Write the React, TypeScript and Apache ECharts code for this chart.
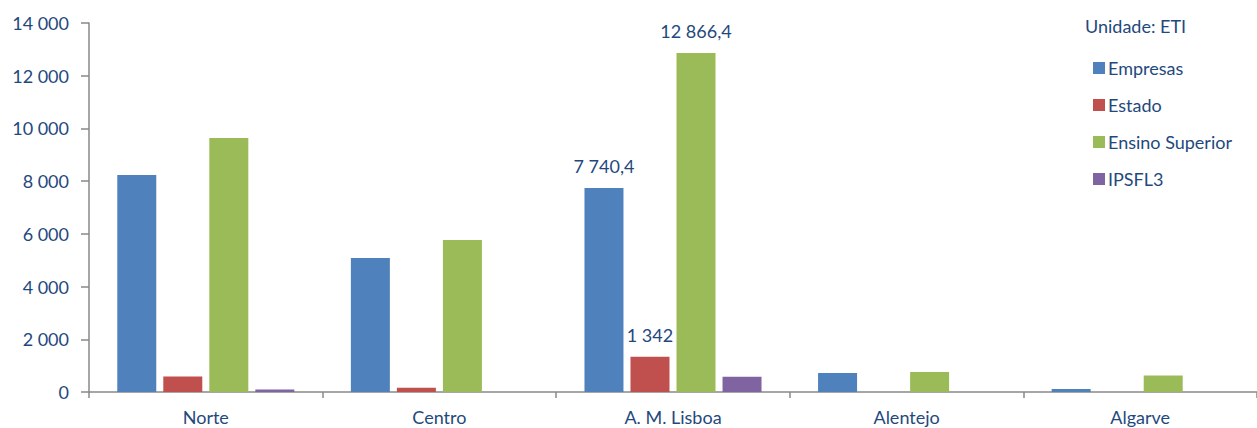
import React, { useEffect, useRef } from "react";
import * as echarts from "echarts";

const categories = ["Norte", "Centro", "A. M. Lisboa", "Alentejo", "Algarve"];
const empresas = [8230, 5085, 7740.4, 720, 110];
const estado = [590, 160, 1342, 0, 0];
const ensinoSuperior = [9640, 5770, 12866.4, 760, 625];
const ipsfl3 = [95, 0, 580, 0, 0];
const yTicks = { min: 0, max: 14000, interval: 2000 };
// which values carry a data label: [seriesIndex, categoryIndex]
const labelled = [
  [0, 2],
  [1, 2],
  [2, 2],
];

const TEXT = "#1F497D";
const FONT = "Lato";
const FS = 18;

function fmt(v: number): string {
  const neg = v < 0;
  const abs = Math.abs(v);
  const isInt = Math.abs(abs - Math.round(abs)) < 1e-9;
  const s = isInt ? String(Math.round(abs)) : abs.toFixed(1);
  const [ip, dp] = s.split(".");
  const withSep = ip.replace(/\B(?=(\d{3})+(?!\d))/g, " ");
  return (neg ? "-" : "") + withSep + (dp ? "," + dp : "");
}

export default function App() {
  const ref = useRef<HTMLDivElement>(null);
  useEffect(() => {
    document.body.style.margin = "0";
    const chart = echarts.init(ref.current!, null, { renderer: "svg" });
    const mk = (name: string, vals: number[], color: string, si: number) => ({
      name,
      type: "bar",
      barWidth: 39,
      barGap: "18%",
      itemStyle: { color },
      data: vals.map((v, ci) => {
        const on = labelled.some(([s, c]) => s === si && c === ci);
        return on
          ? {
              value: v,
              label: {
                show: true,
                position: "top",
                distance: 13,
                color: TEXT,
                fontFamily: FONT,
                fontSize: FS,
                formatter: (p: any) => fmt(p.value),
              },
            }
          : v;
      }),
    });
    chart.setOption({
      animation: false,
      textStyle: { fontFamily: FONT },
      grid: { left: 89, top: 23, bottom: 36, right: -7, containLabel: false },
      graphic: [
        {
          type: "text",
          left: 1085,
          top: 17,
          style: { text: "Unidade: ETI", fill: TEXT, font: `${FS}px ${FONT}` },
        },
      ],
      legend: {
        orient: "vertical",
        left: 1088,
        top: 54,
        icon: "rect",
        itemWidth: 12,
        itemHeight: 12,
        itemGap: 19,
        textStyle: { color: TEXT, fontSize: FS, fontFamily: FONT, padding: [0, 0, 0, -2] },
      },
      xAxis: {
        type: "category",
        data: categories,
        axisLine: { lineStyle: { color: "#898989", width: 1.5 } },
        axisTick: { show: true, length: 6, lineStyle: { color: "#898989", width: 1.5 } },
        axisLabel: { color: TEXT, fontSize: FS, fontFamily: FONT, margin: 16 },
      },
      yAxis: {
        type: "value",
        min: yTicks.min,
        max: yTicks.max,
        interval: yTicks.interval,
        splitLine: { show: false },
        axisLine: { show: true, lineStyle: { color: "#898989", width: 1.5 } },
        axisTick: { show: true, length: 8, lineStyle: { color: "#898989", width: 1.5 } },
        axisLabel: {
          color: TEXT,
          fontSize: FS,
          fontFamily: FONT,
          margin: 20,
          formatter: (v: number) => fmt(v),
        },
      },
      series: [
        mk("Empresas", empresas, "#4F81BD", 0),
        mk("Estado", estado, "#C0504D", 1),
        mk("Ensino Superior", ensinoSuperior, "#9BBB59", 2),
        mk("IPSFL3", ipsfl3, "#8064A2", 3),
      ],
    });
    return () => chart.dispose();
  }, []);
  return <div ref={ref} style={{ width: 1257, height: 428 }} />;
}
